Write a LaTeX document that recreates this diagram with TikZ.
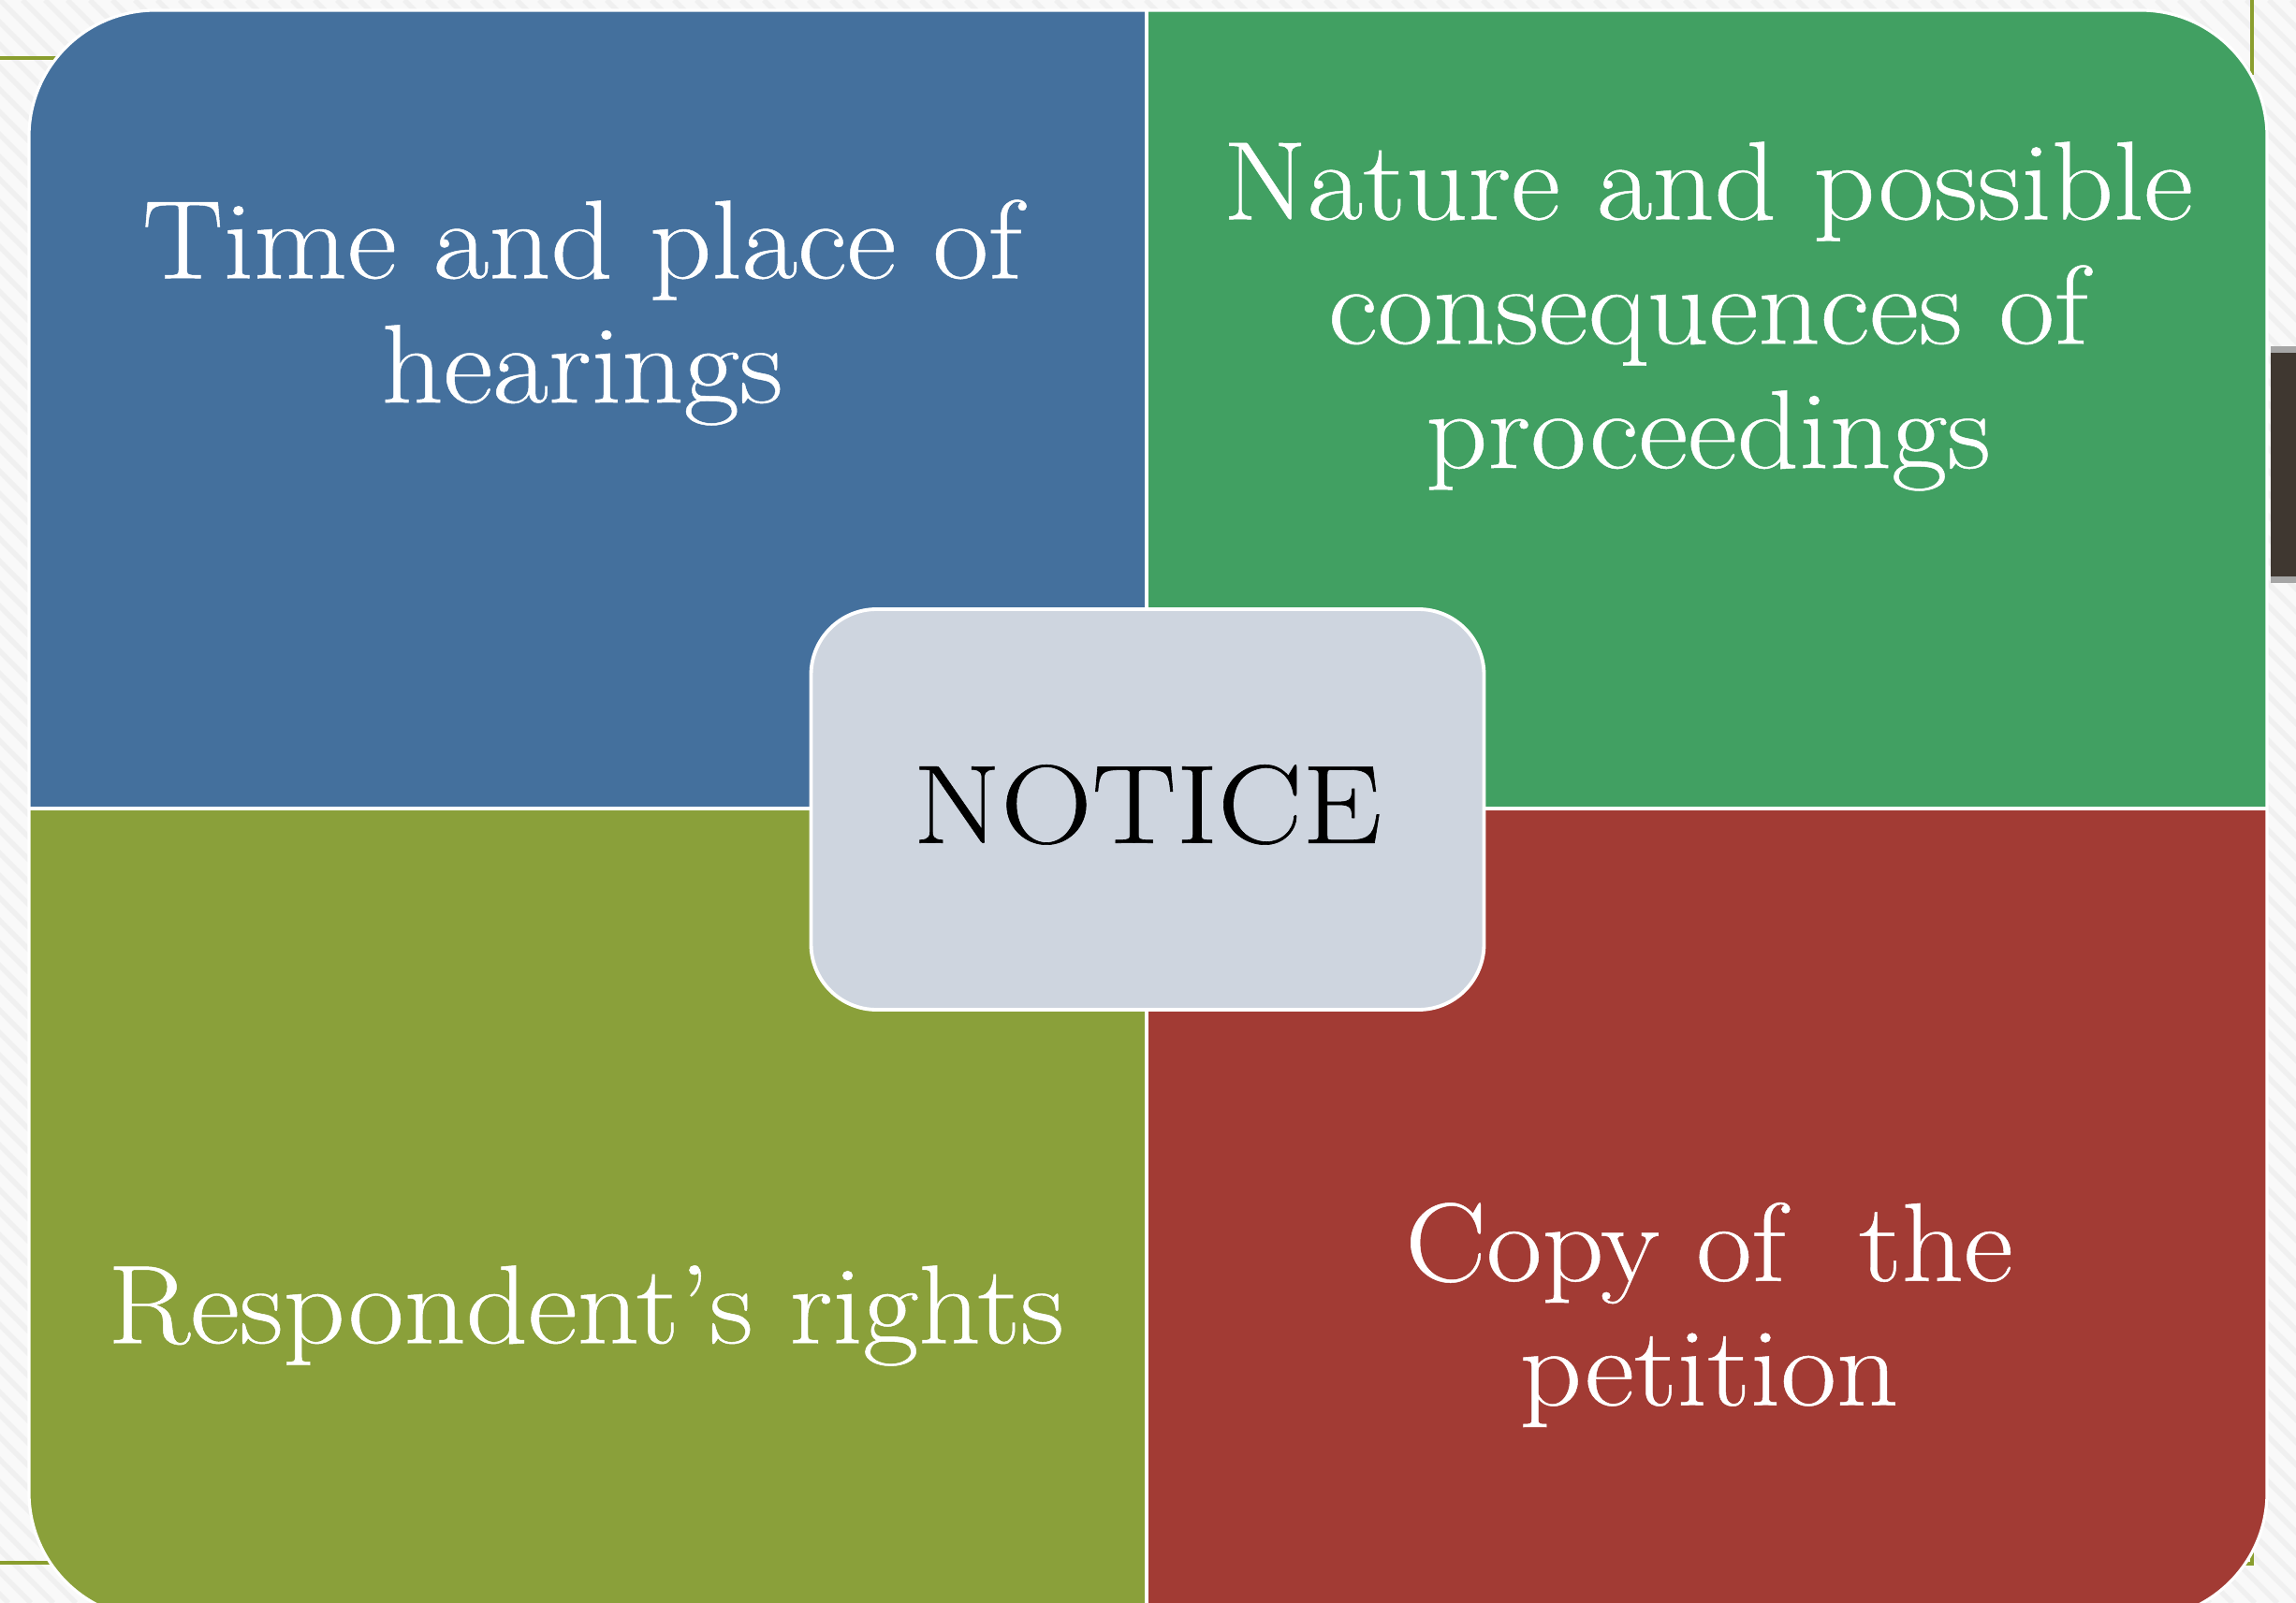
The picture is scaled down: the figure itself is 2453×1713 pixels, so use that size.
\documentclass[tikz,border=0pt]{standalone}
\usepackage{fontspec}
\newfontfamily\quadfont[FakeStretch=1.085, FakeBold=0.4]{Latin Modern Roman}
\newfontfamily\noticefont[FakeStretch=1.13, FakeBold=0.5]{Latin Modern Roman}
\definecolor{bgc}{HTML}{F9F9F9}
\definecolor{stripec}{HTML}{F0F0F0}
\definecolor{blueq}{HTML}{44709D}
\definecolor{greenq}{HTML}{41A062}
\definecolor{oliveq}{HTML}{8AA03A}
\definecolor{redq}{HTML}{A23B34}
\definecolor{noticec}{HTML}{CED5DF}
\definecolor{olivel}{HTML}{8A9E2E}
\definecolor{darkbar}{HTML}{3F3730}
\tikzset{
  stripe/.style={draw=stripec, line width=1.6pt},
  oliveline/.style={draw=olivel, line width=0.9pt},
  quadtext/.style={text=white, align=center, inner sep=0pt, font=\quadfont\fontsize{34}{37.8}\selectfont},
  noticebox/.style={draw=white, line width=1.1pt, fill=noticec, rounded corners=7mm,
    minimum width=71.9mm, minimum height=42.8mm, inner sep=0pt, text depth=1.2mm,
    font=\noticefont\fontsize{34}{37.8}\selectfont, text=black}
}
\begin{document}
\begin{tikzpicture}[x=0.1mm,y=-0.1mm]
\useasboundingbox (0,0) rectangle (2453,1713);
% background
\fill[bgc] (0,0) rectangle (2453,1713);
\begin{scope}
  \clip (0,0) rectangle (2453,1713);
  \foreach \i in {-1800,-1776,...,2460} \draw[stripe] (\i,0) -- (\i+1713,1713);
\end{scope}
% decorative lines
\draw[oliveline] (0,62) -- (62,62);
\draw[oliveline] (0,1670) -- (62,1670);
\draw[oliveline] (2406,0) -- (2406,80);
\draw[oliveline] (2406,1648) -- (2406,1671) -- (2390,1671);
\fill[darkbar] (2426,375) rectangle (2453,618);
\fill[gray!70] (2426,370) rectangle (2453,377);
\fill[gray!70] (2426,616) rectangle (2453,623);
% main matrix
\begin{scope}
  \clip[rounded corners=13.5mm] (31,11) rectangle (2422,1730);
  \fill[white] (31,11) rectangle (2422,1730);
  \fill[blueq] (31,11) rectangle (1223,862);
  \fill[greenq] (1227,11) rectangle (2422,862);
  \fill[oliveq] (31,866) rectangle (1223,1730);
  \fill[redq] (1227,866) rectangle (2422,1730);
\end{scope}
\draw[white, line width=0.9pt, rounded corners=13.5mm] (31,11) rectangle (2422,1730);
% texts
\node[quadtext] (tl) at (622,334) {Time and place of\\hearings};
\node[quadtext] (tr) at (1825,338) {Nature and possible\\consequences of\\proceedings};
\node[quadtext] (bl) at (626,1406) {Respondent’s rights};
\node[quadtext] (br) at (1826,1405) {Copy of~ the\\petition};
% center
\node[noticebox] (notice) at (1226,865) {NOTICE};
\end{tikzpicture}
\end{document}
